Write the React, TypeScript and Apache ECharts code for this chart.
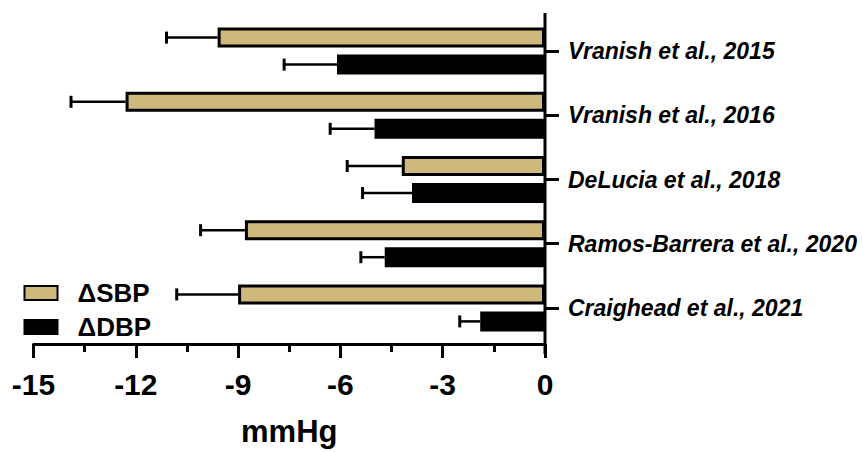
import React, { useEffect, useRef } from 'react';
import * as echarts from 'echarts';

const studies = [
  'Vranish et al., 2015',
  'Vranish et al., 2016',
  'DeLucia et al., 2018',
  'Ramos-Barrera et al., 2020',
  'Craighead et al., 2021',
];
const sbpMean = [-9.6, -12.3, -4.2, -8.8, -9.0];
const sbpErr = [1.5, 1.6, 1.6, 1.3, 1.8];
const dbpMean = [-6.1, -5.0, -3.9, -4.7, -1.9];
const dbpErr = [1.55, 1.3, 1.45, 0.7, 0.6];
const xMin = -15;
const xMax = 0;
const xStep = 3;

const FONT = '"Liberation Sans", Arial, Helvetica, sans-serif';
const TAN = '#CFB87C';

function errorSeries(name: string, means: number[], errs: number[], shift: number) {
  return {
    type: 'custom',
    name,
    silent: true,
    z: 3,
    encode: { x: 0, y: 1 },
    data: means.map((m, i) => [m, i, errs[i]]),
    renderItem: (_params: any, api: any) => {
      const v = api.value(0);
      const i = api.value(1);
      const e = api.value(2);
      const p0 = api.coord([v, i]);
      const p1 = api.coord([v - e, i]);
      const y = p0[1] + shift;
      return {
        type: 'group',
        children: [
          {
            type: 'line',
            shape: { x1: p0[0], y1: y, x2: p1[0], y2: y },
            style: { stroke: '#000', lineWidth: 2.5 },
          },
          {
            type: 'line',
            shape: { x1: p1[0], y1: y - 6, x2: p1[0], y2: y + 6 },
            style: { stroke: '#000', lineWidth: 3 },
          },
        ],
      };
    },
  };
}

export default function App() {
  const ref = useRef<HTMLDivElement>(null);
  useEffect(() => {
    if (!ref.current) return;
    const chart = echarts.init(ref.current, undefined, { renderer: 'svg' });
    chart.setOption({
      animation: false,
      backgroundColor: '#fff',
      grid: { left: 33.5, right: 318, top: 19, bottom: 102, containLabel: false },
      legend: {
        data: ['ΔSBP', 'ΔDBP'],
        orient: 'vertical',
        left: 18.5,
        top: 275,
        icon: 'rect',
        itemWidth: 33,
        itemHeight: 14,
        itemGap: 8,
        selectedMode: false,
        textStyle: {
          fontFamily: FONT,
          fontSize: 26,
          fontWeight: 'bold',
          color: '#000',
          padding: [0, 0, 0, 15],
        },
      },
      xAxis: {
        type: 'value',
        min: xMin,
        max: xMax,
        interval: xStep,
        offset: 4,
        axisLine: { show: true, lineStyle: { color: '#000', width: 3 } },
        axisTick: { show: true, length: 14, lineStyle: { color: '#000', width: 3 } },
        minorTick: { show: true, splitNumber: 2, length: 8, lineStyle: { color: '#000', width: 3 } },
        splitLine: { show: false },
        minorSplitLine: { show: false },
        axisLabel: {
          fontFamily: FONT,
          fontSize: 30,
          fontWeight: 'bold',
          color: '#000',
          margin: 25,
        },
        name: 'mmHg',
        nameLocation: 'middle',
        nameGap: 72,
        nameTextStyle: { fontFamily: FONT, fontSize: 31, fontWeight: 'bold', color: '#000' },
      },
      yAxis: {
        type: 'category',
        data: studies,
        inverse: true,
        position: 'right',
        axisLine: { show: false },
        axisTick: { show: true, alignWithLabel: true, length: 14, lineStyle: { color: '#000', width: 3 } },
        axisLabel: {
          fontFamily: FONT,
          fontSize: 23,
          fontWeight: 'bold',
          fontStyle: 'italic',
          color: '#000',
          margin: 23,
        },
        splitLine: { show: false },
      },
      series: [
        {
          type: 'bar',
          name: 'ΔSBP',
          data: sbpMean,
          barWidth: 20,
          barGap: '35%',
          itemStyle: { color: TAN, borderColor: '#000', borderWidth: 3 },
        },
        {
          type: 'bar',
          name: 'ΔDBP',
          data: dbpMean,
          barWidth: 20,
          barGap: '35%',
          itemStyle: { color: '#000', borderColor: '#000', borderWidth: 3 },
        },
        errorSeries('sbpErr', sbpMean, sbpErr, -13.5),
        errorSeries('dbpErr', dbpMean, dbpErr, 13.5),
      ],
    });
    const x0 = chart.convertToPixel({ xAxisIndex: 0 }, 0) as number;
    chart.setOption({
      graphic: [
        {
          type: 'line',
          shape: { x1: x0, y1: 13, x2: x0, y2: 354 },
          style: { stroke: '#000', lineWidth: 3 },
          z: 10,
        },
      ],
    });
    return () => chart.dispose();
  }, []);
  return (
    <div
      ref={ref}
      style={{ position: 'absolute', left: 0, top: 0, width: 863, height: 452 }}
    />
  );
}
